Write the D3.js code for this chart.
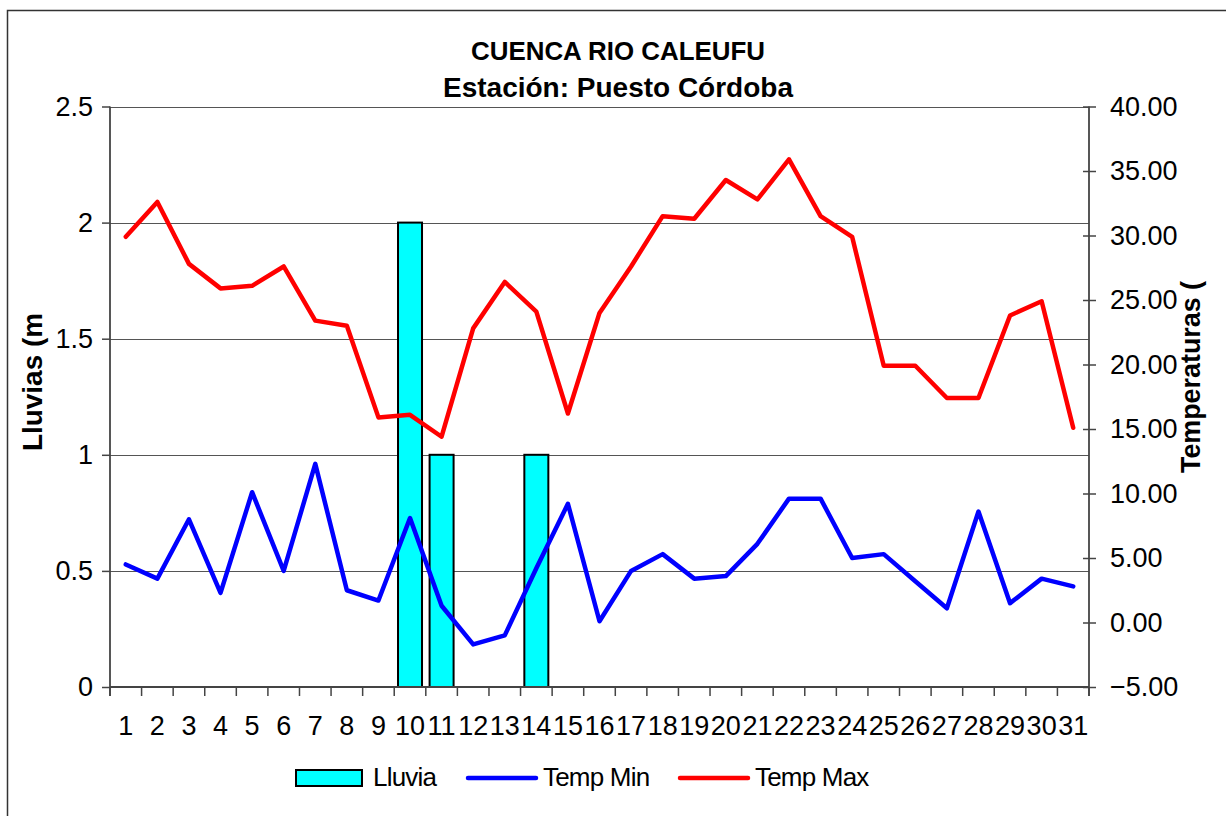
<!DOCTYPE html>
<html>
<head>
<meta charset="utf-8">
<script src="https://cdn.jsdelivr.net/npm/d3@7"></script>
<style>
  body { margin: 0; background: #fff; }
  svg text { font-family: "Liberation Sans", Arial, sans-serif; fill: #000; }
</style>
</head>
<body>
<svg width="1226" height="816"></svg>
<script>
// data
const days = d3.range(1, 32).map(String)
const lluvia = [0,0,0,0,0,0,0,0,0,2,1,0,0,1,0,0,0,0,0,0,0,0,0,0,0,0,0,0,0,0,0]
const tempMin = [4.5,3.4,8.0,2.3,10.1,4.0,12.3,2.5,1.7,8.1,1.3,-1.7,-1.0,4.2,9.2,0.1,4.0,5.3,3.4,3.6,6.1,9.6,9.6,5.0,5.3,3.2,1.1,8.6,1.5,3.4,2.8]
const tempMax = [29.9,32.6,27.8,25.9,26.1,27.6,23.4,23.0,15.9,16.1,14.4,22.8,26.4,24.1,16.2,24.0,27.6,31.5,31.3,34.3,32.8,35.9,31.5,29.9,19.9,19.9,17.4,17.4,23.8,24.9,15.1]
const lluviaTicks = [0, 0.5, 1, 1.5, 2, 2.5]
const tempTicks = [-5, 0, 5, 10, 15, 20, 25, 30, 35, 40]
const legendItems = [
    {name: "Lluvia", type: "bar", color: "#00ffff"},
    {name: "Temp Min", type: "line", color: "#0000ff"},
    {name: "Temp Max", type: "line", color: "#ff0000"}
]

// plot area
let plotLeft = 110
let plotRight = 1089
let plotTop = 106.5
let plotBottom = 687

let svg = d3.select("svg")

// outer chart border (only top/left visible in the picture)
svg.append("rect")
    .attr("x", 7.5).attr("y", 10.5)
    .attr("width", 1400).attr("height", 1000)
    .attr("fill", "none")
    .attr("stroke", "#333")
    .attr("stroke-width", 1.5)

const x = d3.scaleBand()
    .domain(days)
    .range([plotLeft, plotRight])
    .paddingInner(0.24)
    .paddingOuter(0.12)

const yL = d3.scaleLinear().domain([0, 2.5]).range([plotBottom, plotTop])
const yR = d3.scaleLinear().domain([-5, 40]).range([plotBottom, plotTop])

// gridlines
svg.append("g").selectAll("line")
    .data(lluviaTicks.filter(d => d > 0))
    .join("line")
    .attr("x1", plotLeft).attr("x2", plotRight)
    .attr("y1", d => Math.round(yL(d)) + 0.5).attr("y2", d => Math.round(yL(d)) + 0.5)
    .attr("stroke", "#555")
    .attr("stroke-width", 1.2)

// bars
svg.append("g").selectAll("rect")
    .data(days.map((d, i) => ({day: d, v: lluvia[i]})).filter(d => d.v > 0))
    .join("rect")
    .attr("x", d => x(d.day))
    .attr("y", d => yL(d.v))
    .attr("width", x.bandwidth())
    .attr("height", d => yL(0) - yL(d.v))
    .attr("fill", "#00ffff")
    .attr("stroke", "#000")
    .attr("stroke-width", 2)

// left axis
let leftAxis = svg.append("g")
    .attr("transform", `translate(${plotLeft},0)`)
    .call(d3.axisLeft(yL).tickValues(lluviaTicks).tickFormat(d => String(d)).tickSize(8).tickPadding(9))
leftAxis.select(".domain").remove()
leftAxis.selectAll("line").attr("stroke", "#444").attr("stroke-width", 1.5)
leftAxis.selectAll("text").attr("font-size", 27).attr("font-family", "Liberation Sans, Arial, sans-serif")

// right axis
let rightAxis = svg.append("g")
    .attr("transform", `translate(${plotRight},0)`)
    .call(d3.axisRight(yR).tickValues(tempTicks).tickFormat(d3.format(".2f")).tickSize(7).tickPadding(14))
rightAxis.select(".domain").remove()
rightAxis.selectAll("line").attr("x1", -6).attr("stroke", "#444").attr("stroke-width", 1.5)
rightAxis.selectAll("text").attr("font-size", 27).attr("font-family", "Liberation Sans, Arial, sans-serif")

// x axis labels
let bottomAxis = svg.append("g")
    .attr("transform", `translate(0,${plotBottom})`)
    .call(d3.axisBottom(x).tickSize(0).tickPadding(0))
bottomAxis.select(".domain").remove()
bottomAxis.selectAll("text")
    .attr("y", 48).attr("dy", null)
    .attr("font-size", 27).attr("font-family", "Liberation Sans, Arial, sans-serif")

// x ticks at category boundaries
const step = x.step()
svg.append("g").selectAll("line")
    .data(d3.range(days.length + 1))
    .join("line")
    .attr("x1", i => plotLeft + i * step).attr("x2", i => plotLeft + i * step)
    .attr("y1", plotBottom).attr("y2", plotBottom + 9)
    .attr("stroke", "#444").attr("stroke-width", 1.5)

// axis lines
svg.append("line")
    .attr("x1", plotLeft).attr("x2", plotRight)
    .attr("y1", plotBottom).attr("y2", plotBottom)
    .attr("stroke", "#444").attr("stroke-width", 1.8)
svg.append("line")
    .attr("x1", plotLeft).attr("x2", plotLeft)
    .attr("y1", plotTop).attr("y2", plotBottom + 9)
    .attr("stroke", "#444").attr("stroke-width", 1.8)
svg.append("line")
    .attr("x1", plotRight).attr("x2", plotRight)
    .attr("y1", plotTop).attr("y2", plotBottom + 9)
    .attr("stroke", "#444").attr("stroke-width", 1.8)

// temperature lines
const lineGen = d3.line()
    .x((d, i) => x(days[i]) + x.bandwidth() / 2)
    .y(d => yR(d))

svg.append("path")
    .datum(tempMin)
    .attr("d", lineGen)
    .attr("fill", "none")
    .attr("stroke", "#0000ff")
    .attr("stroke-width", 4.5)
    .attr("stroke-linejoin", "round")
    .attr("stroke-linecap", "round")

svg.append("path")
    .datum(tempMax)
    .attr("d", lineGen)
    .attr("fill", "none")
    .attr("stroke", "#ff0000")
    .attr("stroke-width", 4.5)
    .attr("stroke-linejoin", "round")
    .attr("stroke-linecap", "round")

// titles
svg.append("text")
    .attr("x", 618).attr("y", 60)
    .attr("text-anchor", "middle")
    .attr("font-size", 26).attr("font-weight", "bold")
    .attr("textLength", 294).attr("lengthAdjust", "spacingAndGlyphs")
    .text("CUENCA RIO CALEUFU")
svg.append("text")
    .attr("x", 618).attr("y", 97)
    .attr("text-anchor", "middle")
    .attr("font-size", 27).attr("font-weight", "bold")
    .attr("textLength", 350).attr("lengthAdjust", "spacingAndGlyphs")
    .text("Estación: Puesto Córdoba")

svg.append("text")
    .attr("transform", "translate(42,382) rotate(-90)")
    .attr("text-anchor", "middle")
    .attr("font-size", 28).attr("font-weight", "bold")
    .attr("textLength", 138).attr("lengthAdjust", "spacingAndGlyphs")
    .text("Lluvias (m")
svg.append("text")
    .attr("transform", "translate(1200,377) rotate(-90)")
    .attr("text-anchor", "middle")
    .attr("font-size", 27).attr("font-weight", "bold")
    .attr("textLength", 192).attr("lengthAdjust", "spacingAndGlyphs")
    .text("Temperaturas (")

// legend
const legendX = [296, 468, 680]
let legend = svg.append("g")
legendItems.forEach((item, i) => {
    let g = legend.append("g").attr("transform", `translate(${legendX[i]},0)`)
    if (item.type === "bar") {
        g.append("rect")
            .attr("x", 0).attr("y", 770)
            .attr("width", 66).attr("height", 16)
            .attr("fill", item.color)
            .attr("stroke", "#000").attr("stroke-width", 2)
    } else {
        g.append("line")
            .attr("x1", 0).attr("x2", 68)
            .attr("y1", 778).attr("y2", 778)
            .attr("stroke", item.color).attr("stroke-width", 4.5)
            .attr("stroke-linecap", "round")
    }
    g.append("text")
        .attr("x", item.type === "bar" ? 77 : 75).attr("y", 786)
        .attr("font-size", 26)
        .attr("letter-spacing", -0.8)
        .text(item.name)
})
</script>
</body>
</html>
